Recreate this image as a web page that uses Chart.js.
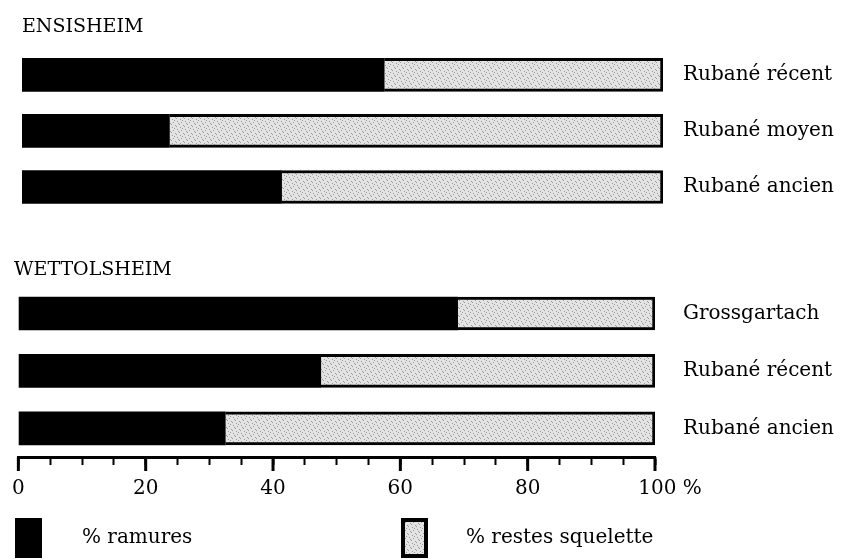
<!DOCTYPE html>
<html>
<head>
<meta charset="utf-8">
<script src="https://cdn.jsdelivr.net/npm/chart.js@4/dist/chart.umd.min.js"></script>
<style>
  html, body { margin: 0; padding: 0; background: #fff; }
  body { width: 850px; height: 560px; position: relative; overflow: hidden; }
  canvas { position: absolute; left: 0; }
  #top { top: 0; }
  #bottom { top: 240px; }
</style>
</head>
<body>
<canvas id="top" width="850" height="227"></canvas>
<canvas id="bottom" width="850" height="320"></canvas>
<script>
// ---- Data ----
const ensTitle = 'ENSISHEIM';
const ensCategories = ['Rubané récent', 'Rubané moyen', 'Rubané ancien'];
const ensRamures = [56.5, 23, 40.5];
const ensRestes = [43.5, 77, 59.5];

const wetTitle = 'WETTOLSHEIM';
const wetCategories = ['Grossgartach', 'Rubané récent', 'Rubané ancien'];
const wetRamures = [69, 47.5, 32.5];
const wetRestes = [31, 52.5, 67.5];

const seriesLabels = ['% ramures', '% restes squelette'];
const xTickValues = [0, 20, 40, 60, 80, 100];

// ---- Styles ----
const FONT = "'DejaVu Serif', 'Liberation Serif', serif";

function makeStipple() {
  const c = document.createElement('canvas');
  c.width = 8; c.height = 8;
  const g = c.getContext('2d');
  g.fillStyle = '#e3e3e3';
  g.fillRect(0, 0, 8, 8);
  g.fillStyle = '#9c9c9c';
  [[1,1],[5,2],[3,4],[7,5],[0,6],[4,7],[6,0],[2,3]].forEach(p => g.fillRect(p[0], p[1], 1, 1));
  return g.createPattern(c, 'repeat');
}
const stipple = makeStipple();

function datasets(ram, rest) {
  return [
    { label: seriesLabels[0], data: ram, backgroundColor: '#000', borderWidth: 0, barThickness: 33 },
    { label: seriesLabels[1], data: rest, backgroundColor: stipple, borderColor: '#000', borderWidth: 3, barThickness: 33 }
  ];
}

function rightAxis(gap, width) {
  return {
    stacked: true, position: 'right',
    grid: { display: true, drawOnChartArea: false, drawTicks: true, tickLength: gap, tickColor: 'rgba(0,0,0,0)' },
    border: { display: false },
    ticks: { color: '#000', padding: 0, font: { family: FONT, size: 20 } },
    afterFit: s => { s.width = width; }
  };
}

// Top chart: ENSISHEIM
new Chart(document.getElementById('top'), {
  type: 'bar',
  data: { labels: ensCategories, datasets: datasets(ensRamures, ensRestes) },
  options: {
    indexAxis: 'y',
    responsive: false,
    animation: false,
    layout: { padding: { left: 22, right: 0, top: 0, bottom: 0 } },
    plugins: {
      legend: { display: false },
      tooltip: { enabled: false },
      title: {
        display: true, text: ensTitle, align: 'start', color: '#000',
        font: { family: FONT, size: 19, weight: 'normal' },
        padding: { top: 16, bottom: 8 }
      }
    },
    scales: {
      x: { display: false, stacked: true, min: 0, max: 100 },
      y: rightAxis(20, 187)
    }
  }
});

// Legend + major tick plugin for bottom chart
const extrasPlugin = {
  id: 'extras',
  afterDraw(chart) {
    const ctx = chart.ctx;
    const xs = chart.scales.x;
    const y0 = chart.chartArea.bottom;
    ctx.save();
    // longer major ticks
    ctx.strokeStyle = '#000';
    ctx.lineWidth = 3;
    xTickValues.forEach(v => {
      const px = xs.getPixelForValue(v);
      ctx.beginPath();
      ctx.moveTo(px, y0);
      ctx.lineTo(px, y0 + 14);
      ctx.stroke();
    });
    // legend
    const ds = chart.data.datasets;
    const items = [{ bx: 15, tx: 82 }, { bx: 401, tx: 466 }];
    const by = 278, bw = 27, bh = 40;
    ctx.font = '20px ' + FONT;
    ctx.textBaseline = 'middle';
    ctx.textAlign = 'left';
    items.forEach((it, i) => {
      ctx.fillStyle = ds[i].backgroundColor;
      ctx.fillRect(it.bx, by, bw, bh);
      if (ds[i].borderWidth) {
        ctx.lineWidth = 4;
        ctx.strokeStyle = ds[i].borderColor;
        ctx.strokeRect(it.bx + 2, by + 2, bw - 4, bh - 4);
      }
      ctx.fillStyle = '#000';
      ctx.fillText(ds[i].label, it.tx, by + bh / 2);
    });
    ctx.restore();
  }
};

// Bottom chart: WETTOLSHEIM
new Chart(document.getElementById('bottom'), {
  type: 'bar',
  data: { labels: wetCategories, datasets: datasets(wetRamures, wetRestes) },
  plugins: [extrasPlugin],
  options: {
    indexAxis: 'y',
    responsive: false,
    animation: false,
    layout: { padding: { left: 14, right: 0, top: 0, bottom: 47 } },
    plugins: {
      legend: { display: false },
      tooltip: { enabled: false },
      title: {
        display: true, text: wetTitle, align: 'start', color: '#000',
        font: { family: FONT, size: 19, weight: 'normal' },
        padding: { top: 19, bottom: 3 }
      }
    },
    scales: {
      x: {
        stacked: true, min: 0, max: 100,
        grid: { drawOnChartArea: false, drawTicks: true, tickLength: 8, tickColor: '#000', tickWidth: 2 },
        border: { display: true, color: '#000', width: 3 },
        ticks: {
          stepSize: 5, autoSkip: false, maxRotation: 0, minRotation: 0,
          padding: 12, color: '#000', font: { family: FONT, size: 20 },
          callback: v => xTickValues.includes(v) ? (v === 100 ? '\u2002\u2002\u2002100 %' : String(v)) : ''
        }
      },
      y: rightAxis(28, 195)
    }
  }
});
</script>
</body>
</html>
